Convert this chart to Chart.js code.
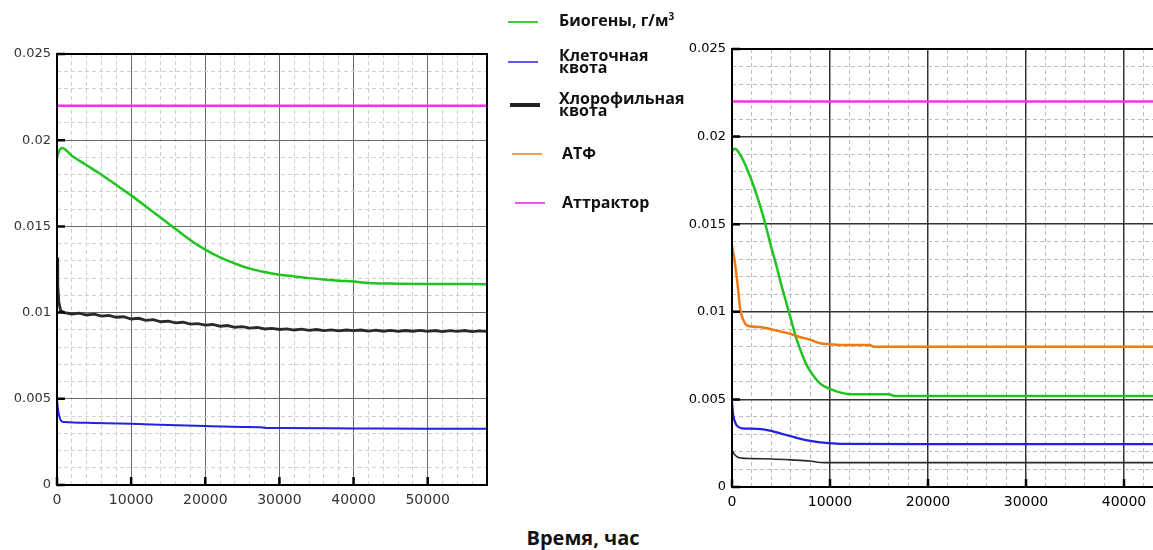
<!DOCTYPE html>
<html>
<head>
<meta charset="utf-8">
<script src="https://cdn.jsdelivr.net/npm/chart.js@4"></script>
<style>
  html, body { margin: 0; padding: 0; background: #fff; width: 1153px; height: 550px; overflow: hidden; }
  .plot { position: absolute; top: 0; height: 520px; }
  #leftBox { left: 0; width: 500px; }
  #rightBox { left: 680px; width: 670px; }
  .key { position: absolute; font-family: "Open Sans", sans-serif; font-weight: 700; font-size: 16px; line-height: 12.5px; color: #111; white-space: nowrap; }
  .swatch { position: absolute; width: 30px; }
  #xTitle { position: absolute; left: 0; top: 524px; width: 1166px; text-align: center; font-family: "Open Sans", sans-serif; font-weight: 700; font-size: 20px; color: #111; }
</style>
</head>
<body>
<div class="plot" id="leftBox"><canvas id="leftChart"></canvas></div>
<div class="plot" id="rightBox"><canvas id="rightChart"></canvas></div>
<div id="legend"></div>
<div id="xTitle">Время, час</div>
<script>
// series names and colours (legend order)
const seriesNames = ['Биогены, г/м³', 'Клеточная\nквота', 'Хлорофильная\nквота', 'АТФ', 'Аттрактор'];
const seriesColors = ['#1fc41f', '#2222e0', '#2a2a2a', '#f07a12', '#ff2cff'];

const yTicks = [0, 0.005, 0.01, 0.015, 0.02, 0.025];
const xTicksLeft = [0, 10000, 20000, 30000, 40000, 50000];
const xTicksRight = [0, 10000, 20000, 30000, 40000, 50000, 60000];

// ---- left panel ----
const leftBiogenT = [0, 300, 700, 2000, 4000, 6000, 8000, 10000, 12000, 14000, 16000, 18000, 20000,
  22000, 24000, 26000, 28000, 30000, 32000, 34000, 36000, 38000, 40000, 42000, 46000, 50000, 58000];
const leftBiogen = [0.0190, 0.0194, 0.01955, 0.0191, 0.01855, 0.0180, 0.0174, 0.0168, 0.01615, 0.0155, 0.01485, 0.0142, 0.01365,
  0.0132, 0.01285, 0.01255, 0.01235, 0.0122, 0.0121, 0.0120, 0.01192, 0.01185, 0.0118, 0.01172, 0.01168, 0.01166, 0.01165];

const leftCellT = [0, 100, 300, 600, 1000, 5000, 10000, 15000, 20000, 25000, 27500, 28500, 30000, 40000, 50000, 58000];
const leftCell = [0.0050, 0.0045, 0.0040, 0.0037, 0.00365, 0.0036, 0.00355, 0.00348, 0.00342, 0.00337, 0.00335, 0.0033, 0.0033, 0.00328, 0.00326, 0.00326];

const leftChloroT = [0, 100, 250, 500, 800,
  1000, 2000, 3000, 4000, 5000, 6000, 7000, 8000, 9000, 10000,
  11000, 12000, 13000, 14000, 15000, 16000, 17000, 18000, 19000, 20000,
  21000, 22000, 23000, 24000, 25000, 26000, 27000, 28000, 29000, 30000,
  31000, 32000, 33000, 34000, 35000, 36000, 37000, 38000, 39000, 40000,
  41000, 42000, 43000, 44000, 45000, 46000, 47000, 48000, 49000, 50000,
  51000, 52000, 53000, 54000, 55000, 56000, 57000, 58000];
const leftChloro = [0.0132, 0.0116, 0.0106, 0.0101, 0.01005,
  0.01000, 0.00992, 0.00997, 0.00986, 0.00991, 0.00980, 0.00984, 0.00973, 0.00976, 0.00963,
  0.00967, 0.00955, 0.00959, 0.00947, 0.00951, 0.00940, 0.00944, 0.00933, 0.00936, 0.00927,
  0.00931, 0.00921, 0.00925, 0.00915, 0.00919, 0.00910, 0.00914, 0.00905, 0.00909, 0.00902,
  0.00906, 0.00899, 0.00904, 0.00897, 0.00902, 0.00896, 0.00900, 0.00894, 0.00899, 0.00895,
  0.00899, 0.00893, 0.00898, 0.00892, 0.00897, 0.00891, 0.00896, 0.00892, 0.00897, 0.00891,
  0.00896, 0.00890, 0.00895, 0.00891, 0.00896, 0.00890, 0.00894, 0.00891];

const leftAttrT = [0, 58000];
const leftAttr = [0.022, 0.022];

// ---- right panel ----
const rightBiogenT = [0, 300, 1000, 1500, 2000, 2500, 3000, 3500, 4000, 4500, 5000, 5500, 6000, 6500, 7000, 7500,
  8000, 9000, 10000, 11000, 12000, 16000, 16600, 30000, 60000];
const rightBiogen = [0.0192, 0.0193, 0.0188, 0.0182, 0.0175, 0.0167, 0.0158, 0.0148, 0.0137, 0.0127, 0.0116, 0.0106, 0.0096, 0.0086, 0.0078, 0.0071,
  0.0066, 0.0059, 0.0056, 0.0054, 0.0053, 0.0053, 0.0052, 0.0052, 0.0052];

const rightCellT = [0, 100, 250, 500, 1000, 2000, 3000, 4000, 5000, 6000, 7000, 8000, 9000, 10000, 11000, 20000, 60000];
const rightCell = [0.0049, 0.0042, 0.0038, 0.0035, 0.00335, 0.00333, 0.0033, 0.0032, 0.00305, 0.0029, 0.00275, 0.00263, 0.00255, 0.0025, 0.00246, 0.00245, 0.00245];

const rightChloroT = [0, 200, 600, 1000, 2000, 4000, 6000, 8000, 9000, 10000, 60000];
const rightChloro = [0.0021, 0.0019, 0.0017, 0.00165, 0.00162, 0.0016, 0.00155, 0.00148, 0.0014, 0.00139, 0.00139];

const rightAtpT = [0, 300, 600, 850, 1100, 1600, 3000, 4000, 5000, 6000, 7000, 8000, 9000, 10000, 12000, 14000, 14500, 60000];
const rightAtp = [0.0138, 0.0128, 0.0114, 0.0101, 0.0096, 0.0092, 0.00912, 0.0090, 0.00887, 0.00873, 0.00855, 0.0084, 0.0082, 0.00815, 0.0081, 0.0081, 0.0080, 0.0080];

const rightAttrT = [0, 60000];
const rightAttr = [0.022, 0.022];

function pts(t, v) { return t.map((x, i) => ({ x: x, y: v[i] })); }

function onStep(v, unit) { return Math.abs(v / unit - Math.round(v / unit)) < 1e-6; }

// box around the plot area plus short inward stubs at major ticks
const frame = {
  id: 'frame',
  afterDatasetsDraw(chart) {
    const { ctx, chartArea: a, scales } = chart;
    ctx.save();
    ctx.strokeStyle = '#000';
    ctx.lineWidth = 2;
    ctx.strokeRect(a.left, a.top, a.right - a.left, a.bottom - a.top);
    ctx.lineWidth = 2.5;
    ctx.beginPath();
    yTicks.forEach(v => {
      const y = scales.y.getPixelForValue(v);
      ctx.moveTo(a.left, y); ctx.lineTo(a.left + 8, y);
    });
    xTicksRight.forEach(v => {
      if (v > scales.x.max) return;
      const x = scales.x.getPixelForValue(v);
      ctx.moveTo(x, a.bottom); ctx.lineTo(x, a.bottom - 8);
    });
    ctx.stroke();
    ctx.restore();
  }
};

function line(t, v, color, width, smooth) {
  return {
    data: pts(t, v), borderColor: color, borderWidth: width, pointRadius: 0,
    cubicInterpolationMode: smooth ? 'monotone' : 'default', tension: smooth ? 0.4 : 0
  };
}

function makePlot(id, xMax, xLabels, datasets, look) {
  const gridColor = unit => ctx => (ctx.tick && onStep(ctx.tick.value, unit)) ? look.major : look.minor;
  const gridDash = unit => ctx => (ctx.type === 'tick' && !onStep(ctx.tick.value, unit)) ? [4, 3] : [];
  return new Chart(document.getElementById(id), {
    type: 'line',
    data: { datasets: datasets },
    options: {
      animation: false,
      responsive: true,
      maintainAspectRatio: false,
      layout: { padding: look.pad },
      plugins: { legend: { display: false }, tooltip: { enabled: false } },
      scales: {
        x: {
          type: 'linear', min: 0, max: xMax,
          afterFit: s => { s.height = look.xAxisH; },
          border: { display: false, dash: gridDash(10000) },
          grid: { drawTicks: false, color: gridColor(10000), lineWidth: ctx => (ctx.tick && onStep(ctx.tick.value, 10000)) ? look.majorW : 1 },
          ticks: {
            stepSize: 2000, maxTicksLimit: 100, autoSkip: false, maxRotation: 0, padding: 7,
            color: look.text, font: { family: 'DejaVu Sans', size: 14 },
            callback: v => xLabels.includes(v) ? String(v) : ''
          }
        },
        y: {
          type: 'linear', min: 0, max: 0.025,
          afterFit: s => { s.width = look.yAxisW; },
          border: { display: false, dash: gridDash(0.005) },
          grid: { drawTicks: false, color: gridColor(0.005), lineWidth: ctx => (ctx.tick && onStep(ctx.tick.value, 0.005)) ? look.majorW : 1 },
          ticks: {
            stepSize: 0.001, maxTicksLimit: 100, autoSkip: false, padding: 6,
            color: look.text, font: { family: 'DejaVu Sans', size: 13 },
            callback: v => yTicks.some(t => Math.abs(t - v) < 1e-9) ? String(+v.toFixed(3)) : ''
          }
        }
      }
    },
    plugins: [frame]
  });
}

makePlot('leftChart', 58000, xTicksLeft, [
  line(leftAttrT, leftAttr, seriesColors[4], 2.5, false),
  line(leftBiogenT, leftBiogen, seriesColors[0], 2.5, true),
  line(leftChloroT, leftChloro, seriesColors[2], 2.8, false),
  line(leftCellT, leftCell, seriesColors[1], 2, true)
], { pad: { top: 54, right: 13, left: 0, bottom: 0 }, xAxisH: 35, yAxisW: 57, major: '#6a6a6a', minor: '#cfcfcf', majorW: 1, text: '#333' });

makePlot('rightChart', 60000, xTicksRight, [
  line(rightAttrT, rightAttr, seriesColors[4], 2.5, false),
  line(rightAtpT, rightAtp, seriesColors[3], 2.5, true),
  line(rightBiogenT, rightBiogen, seriesColors[0], 2.5, true),
  line(rightCellT, rightCell, seriesColors[1], 2.2, true),
  line(rightChloroT, rightChloro, seriesColors[2], 1.6, true)
], { pad: { top: 49, right: 30, left: 0, bottom: 0 }, xAxisH: 33, yAxisW: 52, major: '#333', minor: '#bdbdbd', majorW: 1.5, text: '#000' });

// legend between the two panels
const keyColors = ['#3ccc3c', '#5a5aee', '#222', '#f0a050', '#ee55ee'];
const keyRows = [
  { line: 22, text: 20, x0: 508, w: 2 },
  { line: 62, text: 61, x0: 508, w: 2 },
  { line: 105, text: 104, x0: 510, w: 4 },
  { line: 154, text: 153, x0: 512, w: 2 },
  { line: 203, text: 202, x0: 515, w: 2 }
];
const legend = document.getElementById('legend');
seriesNames.forEach((name, i) => {
  const r = keyRows[i];
  const sw = document.createElement('div');
  sw.className = 'swatch';
  sw.style.left = r.x0 + 'px';
  sw.style.top = (r.line - r.w / 2) + 'px';
  sw.style.height = r.w + 'px';
  sw.style.background = keyColors[i];
  legend.appendChild(sw);

  const lines = name.split('\n');
  const tx = document.createElement('div');
  tx.className = 'key';
  tx.style.left = (i >= 3 ? 562 : 559) + 'px';
  tx.style.top = (r.text - lines.length * 12.5 / 2) + 'px';
  tx.innerHTML = lines.map(s => s.replace('³', '<sup style="font-size:10px;line-height:0">3</sup>')).join('<br>');
  legend.appendChild(tx);
});
</script>
</body>
</html>
